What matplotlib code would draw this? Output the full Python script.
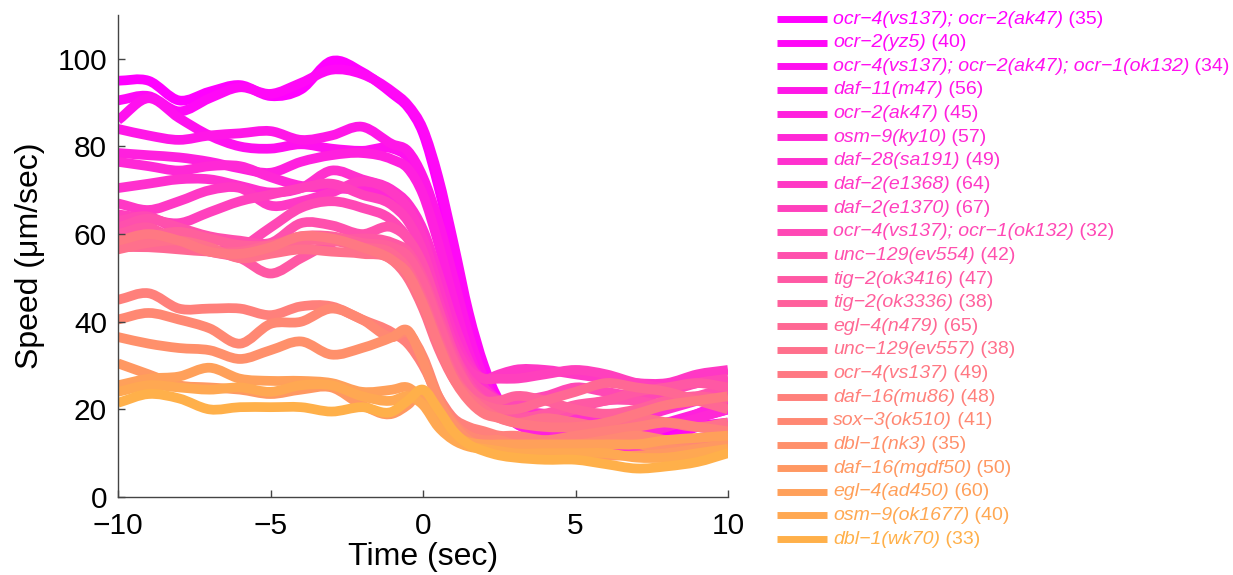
import matplotlib.pyplot as plt
import numpy as np
from matplotlib.colors import LinearSegmentedColormap
from matplotlib.lines import Line2D
from matplotlib.path import Path
from matplotlib.patches import PathPatch

plt.rcParams['font.family'] = ['Liberation Sans', 'DejaVu Sans']

# time points (sec), denser around the stimulus
t = [-10, -9, -8, -7, -6, -5, -4, -3, -2, -1, -0.5, 0, 0.5, 1, 1.5, 2, 2.5, 3, 4, 5, 6, 7, 8, 9, 10]

# mean speed traces (um/sec) per strain
ocr4_ocr2 = [95, 95, 90.5, 92.5, 94, 91.5, 93, 99.5, 97, 92, 89, 83, 71, 56, 40, 28, 21, 18, 15, 12, 11, 12, 15, 18, 20]
ocr2_yz5 = [90.5, 91.5, 88, 91, 93.5, 92, 94.5, 97.5, 96.5, 92.5, 89.5, 84, 73, 58, 42, 30, 22, 19, 16, 13, 11, 11, 13, 16, 17]
ocr4_ocr2_ocr1 = [86, 91, 86.5, 82.5, 80, 79.5, 80.5, 79.5, 79, 79.5, 77.5, 71, 61, 47, 34, 25, 20, 17, 14, 12, 12, 14, 17, 16, 15]
daf11_m47 = [84, 82.5, 81.5, 82.5, 83, 83.5, 81.5, 82.5, 84.5, 80.5, 79, 73, 63, 50, 37, 27, 21, 18, 16, 14, 13, 14, 16, 19, 22]
ocr2_ak47 = [78.5, 78, 77.5, 76.5, 75, 74, 76.5, 78, 78.5, 77, 75, 69, 58, 45, 33, 25, 20, 17, 15, 13, 13, 15, 17, 19, 21]
osm9_ky10 = [76.5, 75.5, 74.5, 75.5, 75.5, 73, 71, 70.5, 70, 68.5, 66, 60, 50, 39, 30, 24, 20, 18, 16, 14, 13, 14, 16, 18, 20]
daf28_sa191 = [70.5, 71.5, 72.5, 72.5, 71, 69.5, 70.5, 74.5, 72.5, 70, 67, 61, 51, 40, 31, 25, 22, 20, 19, 18, 17, 18, 20, 22, 24]
daf2_e1368 = [67, 65.5, 67.5, 70, 70.5, 66.5, 67.5, 69.5, 72, 69.5, 66, 59, 48, 37, 30, 27, 28, 29, 29, 28, 27, 26, 26, 28, 29]
daf2_e1370 = [64.5, 63.5, 62.5, 65, 67.5, 69, 70.5, 71.5, 69, 66.5, 63, 56, 45, 35, 29, 27, 27, 27, 28, 29, 28, 26, 25, 26, 27]
ocr4_ocr1 = [63, 64, 60.5, 56.5, 57, 61.5, 66, 67.5, 66, 63, 59, 52, 42, 33, 27, 24, 22, 22, 23, 25, 24, 23, 24, 26, 27]
unc129_ev554 = [61.5, 63.5, 61.5, 59.5, 58.5, 58, 62.5, 62, 60, 61.5, 59, 53, 43, 33, 26, 22, 20, 19, 18, 20, 22, 22, 21, 23, 25]
tig2_ok3416 = [60, 61.5, 58, 56, 54.5, 51, 54.5, 58, 59, 58, 56, 50, 41, 32, 25, 21, 19, 18, 19, 21, 22, 24, 25, 26, 25]
tig2_ok3336 = [58.5, 59.5, 60.5, 59, 57.5, 57.5, 59.5, 59.5, 58, 57, 55, 49, 40, 31, 25, 22, 22, 23, 22, 20, 19, 20, 22, 23, 22]
egl4_n479 = [57, 57, 56.5, 56, 56, 57.5, 58.5, 58.5, 57, 55.5, 52, 45, 36, 28, 23, 21, 20, 20, 22, 24, 26, 25, 24, 22, 20]
unc129_ev557 = [56.5, 58, 58.5, 57, 54.5, 55.5, 56.5, 56, 55.5, 54, 50, 43, 34, 27, 23, 20, 18, 17, 18, 17, 16, 18, 17, 16, 17]
ocr4_vs137 = [58.5, 60, 58.5, 56, 55.5, 57, 59.5, 59, 57, 54, 51, 44, 35, 27, 22, 19, 18, 17, 16, 16, 17, 19, 21, 22, 23]
daf16_mu86 = [45, 46.5, 43, 43, 43, 41.5, 43.5, 43.5, 40.5, 37.5, 35, 30, 23, 18, 16, 15, 14, 14, 13, 14, 15, 16, 17, 16, 15]
sox3_ok510 = [40.5, 42, 40.5, 38.5, 35, 39.5, 40, 43, 40.5, 36.5, 37.5, 32, 23, 17, 14, 13, 13, 12, 12, 12, 13, 14, 13, 13, 13]
dbl1_nk3 = [36.5, 35, 34, 33.5, 31.5, 33.5, 35.5, 32.5, 34, 36.5, 38, 31, 22, 16.5, 13, 11.5, 11, 11, 11, 11, 12, 12, 11, 11, 12]
daf16_mgdf50 = [30.5, 28, 25.5, 25, 24.5, 23.5, 24.5, 25, 21, 19, 21, 24, 19, 14.5, 12.5, 11.5, 11, 10.5, 10, 10, 9.5, 9.5, 10, 11, 12]
egl4_ad450 = [25.5, 27, 27.5, 29.5, 27, 26.5, 26.5, 26, 24, 24.5, 25, 22, 17, 14, 12.5, 12, 12, 12, 12, 12, 12, 12, 13, 13.5, 14]
osm9_ok1677 = [24, 25.5, 25, 24.5, 25, 24, 25.5, 25.5, 23, 22, 23, 21, 16, 13, 11.5, 11, 10.5, 10, 10, 10, 10, 9, 9, 10, 11]
dbl1_wk70 = [21.5, 23.5, 22.5, 20, 20.5, 20.5, 20.5, 19.5, 20.5, 19.5, 22, 24.5, 20, 15, 12, 10.5, 9.5, 9, 8.5, 8.5, 7.5, 6.5, 7, 8, 10]

speeds = [ocr4_ocr2, ocr2_yz5, ocr4_ocr2_ocr1, daf11_m47, ocr2_ak47, osm9_ky10,
          daf28_sa191, daf2_e1368, daf2_e1370, ocr4_ocr1, unc129_ev554, tig2_ok3416,
          tig2_ok3336, egl4_n479, unc129_ev557, ocr4_vs137, daf16_mu86, sox3_ok510,
          dbl1_nk3, daf16_mgdf50, egl4_ad450, osm9_ok1677, dbl1_wk70]

M = '\u2212'
strains = ['ocr' + M + '4(vs137); ocr' + M + '2(ak47)', 'ocr' + M + '2(yz5)',
           'ocr' + M + '4(vs137); ocr' + M + '2(ak47); ocr' + M + '1(ok132)',
           'daf' + M + '11(m47)', 'ocr' + M + '2(ak47)', 'osm' + M + '9(ky10)',
           'daf' + M + '28(sa191)', 'daf' + M + '2(e1368)', 'daf' + M + '2(e1370)',
           'ocr' + M + '4(vs137); ocr' + M + '1(ok132)', 'unc' + M + '129(ev554)',
           'tig' + M + '2(ok3416)', 'tig' + M + '2(ok3336)', 'egl' + M + '4(n479)',
           'unc' + M + '129(ev557)', 'ocr' + M + '4(vs137)', 'daf' + M + '16(mu86)',
           'sox' + M + '3(ok510)', 'dbl' + M + '1(nk3)', 'daf' + M + '16(mgdf50)',
           'egl' + M + '4(ad450)', 'osm' + M + '9(ok1677)', 'dbl' + M + '1(wk70)']
counts = [35, 40, 34, 56, 45, 57, 49, 64, 67, 32, 42, 47, 38, 65, 38, 49, 48, 41, 35, 50, 60, 40, 33]


def smooth_path(x, y):
    # cubic Hermite segments through every sample, drawn as Bezier curves
    x = np.asarray(x, float)
    y = np.asarray(y, float)
    m = np.gradient(y, x)
    verts = [(x[0], y[0])]
    codes = [Path.MOVETO]
    for i in range(len(x) - 1):
        h = (x[i + 1] - x[i]) / 3.0
        verts += [(x[i] + h, y[i] + h * m[i]),
                  (x[i + 1] - h, y[i + 1] - h * m[i + 1]),
                  (x[i + 1], y[i + 1])]
        codes += [Path.CURVE4] * 3
    return Path(verts, codes)


cmap = LinearSegmentedColormap.from_list('mag_orange', [(1.0, 0.0, 1.0), (1.0, 0.69, 0.29)])
colors = [cmap(i / (len(speeds) - 1)) for i in range(len(speeds))]

W, H = 1233, 575
fig = plt.figure(figsize=(W / 100, H / 100), dpi=100)
ax = fig.add_axes([118 / W, 1 - 497 / H, 610 / W, 482 / H])

for s, c in zip(speeds, colors):
    ax.add_patch(PathPatch(smooth_path(t, s), fill=False, edgecolor=c, lw=7,
                           capstyle='butt', joinstyle='round'))

ax.set_xlim(-10, 10)
ax.set_ylim(0, 110)
ax.set_xticks([-10, -5, 0, 5, 10])
ax.set_yticks([0, 20, 40, 60, 80, 100])
ax.spines['top'].set_visible(False)
ax.spines['right'].set_visible(False)
for sp in ('left', 'bottom'):
    ax.spines[sp].set_color('#444444')
    ax.spines[sp].set_linewidth(1.0)
ax.tick_params(direction='in', length=5, width=1, color='#444444', labelsize=21.5)
ax.tick_params(axis='x', pad=11)
ax.tick_params(axis='y', pad=8)
ax.set_xlabel('Time (sec)', fontsize=23, labelpad=1)
ax.set_ylabel('Speed (\u03bcm/sec)', fontsize=23, labelpad=9)

# legend built by hand: italic strain name + plain count
y0, dy = 19, 23.64
for i, (name, n, c) in enumerate(zip(strains, counts, colors)):
    yf = 1 - (y0 + i * dy) / H
    fig.add_artist(Line2D([777 / W, 827 / W], [yf, yf], color=c, lw=5,
                          transform=fig.transFigure, solid_capstyle='butt'))
    txt = fig.text(833 / W, yf, name, color=c, fontsize=14, style='italic',
                   va='center', ha='left')
    ax.annotate(' (%d)' % n, xy=(1, 0), xycoords=txt, va='bottom', ha='left',
                color=c, fontsize=14, annotation_clip=False)

fig.savefig('out.png', dpi=100)
